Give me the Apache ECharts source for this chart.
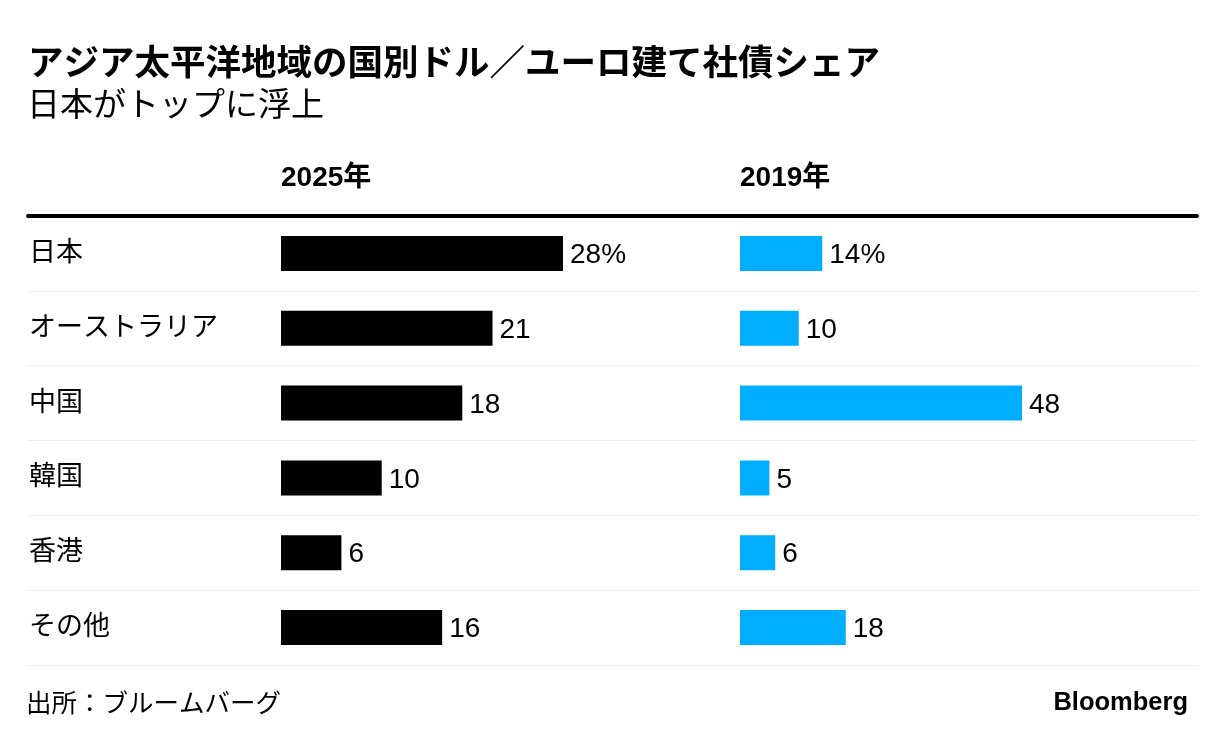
<!DOCTYPE html>
<html><head><meta charset="utf-8">
<script src="https://cdn.jsdelivr.net/npm/echarts@6/dist/echarts.min.js"></script>
<style>html,body{margin:0;padding:0;background:#fff}#c{width:1226px;height:746px}</style>
</head><body><div id="c"></div>
<script>
const categories = ['日本', 'オーストラリア', '中国', '韓国', '香港', 'その他'];
const share2025 = [28, 21, 18, 10, 6, 16];
const share2019 = [14, 10, 48, 5, 6, 18];
const panelTitles = ['2025年', '2019年'];

const FONT = '"Liberation Sans", "Noto Sans CJK JP", sans-serif';
const chart = echarts.init(document.getElementById('c'));
const labelFmt = p => p.dataIndex === 0 ? p.value + '%' : String(p.value);
chart.setOption({
  animation: false,
  textStyle: { fontFamily: FONT },
  title: [
    { text: 'アジア太平洋地域の国別ドル／ユーロ建て社債シェア', left: 28, top: 47, padding: 0,
      textStyle: { fontSize: 35.5, fontWeight: 'bold', color: '#000', fontFamily: FONT } },
    { text: '日本がトップに浮上', left: 27, top: 90, padding: 0,
      textStyle: { fontSize: 33, fontWeight: 'normal', color: '#000', fontFamily: FONT } },
    { text: panelTitles[0], left: 281, top: 164, padding: 0,
      textStyle: { fontSize: 28, fontWeight: 'bold', color: '#000', fontFamily: FONT } },
    { text: panelTitles[1], left: 740, top: 164, padding: 0,
      textStyle: { fontSize: 28, fontWeight: 'bold', color: '#000', fontFamily: FONT } },
    { text: '出所：ブルームバーグ', left: 26, top: 692, padding: 0,
      textStyle: { fontSize: 25.5, fontWeight: 'normal', color: '#000', fontFamily: FONT } },
    { text: 'Bloomberg', right: 38, top: 690, padding: 0,
      textStyle: { fontSize: 25.5, fontWeight: 'bold', color: '#000', fontFamily: FONT } }
  ],
  grid: [
    { left: 28, width: 1169, top: 216, height: 449 },
    { left: 281, width: 282, top: 216, height: 449 },
    { left: 740, width: 282, top: 216, height: 449 }
  ],
  xAxis: [
    { gridIndex: 0, type: 'value', position: 'top', min: 0, max: 1,
      axisLine: { show: true, onZero: false, lineStyle: { color: '#000', width: 4 } },
      axisTick: { show: false }, axisLabel: { show: false }, splitLine: { show: false } },
    { gridIndex: 1, type: 'value', min: 0, max: Math.max(...share2025), show: false },
    { gridIndex: 2, type: 'value', min: 0, max: Math.max(...share2019), show: false }
  ],
  yAxis: [
    { gridIndex: 0, type: 'category', data: categories, inverse: true,
      axisLine: { show: false }, axisTick: { show: false },
      axisLabel: { inside: true, margin: 1, fontSize: 27, color: '#000', fontFamily: FONT },
      splitLine: { show: true, lineStyle: { color: '#eeeeee', width: 1 } } },
    { gridIndex: 1, type: 'category', data: categories, inverse: true, show: false },
    { gridIndex: 2, type: 'category', data: categories, inverse: true, show: false }
  ],
  series: [
    { type: 'bar', xAxisIndex: 1, yAxisIndex: 1, data: share2025, barWidth: 35,
      itemStyle: { color: '#000' },
      label: { show: true, position: 'right', distance: 7, fontSize: 28, color: '#000',
        fontFamily: FONT, formatter: labelFmt, offset: [0, 2] } },
    { type: 'bar', xAxisIndex: 2, yAxisIndex: 2, data: share2019, barWidth: 35,
      itemStyle: { color: '#00adff' },
      label: { show: true, position: 'right', distance: 7, fontSize: 28, color: '#000',
        fontFamily: FONT, formatter: labelFmt, offset: [0, 2] } }
  ]
});
</script></body></html>
